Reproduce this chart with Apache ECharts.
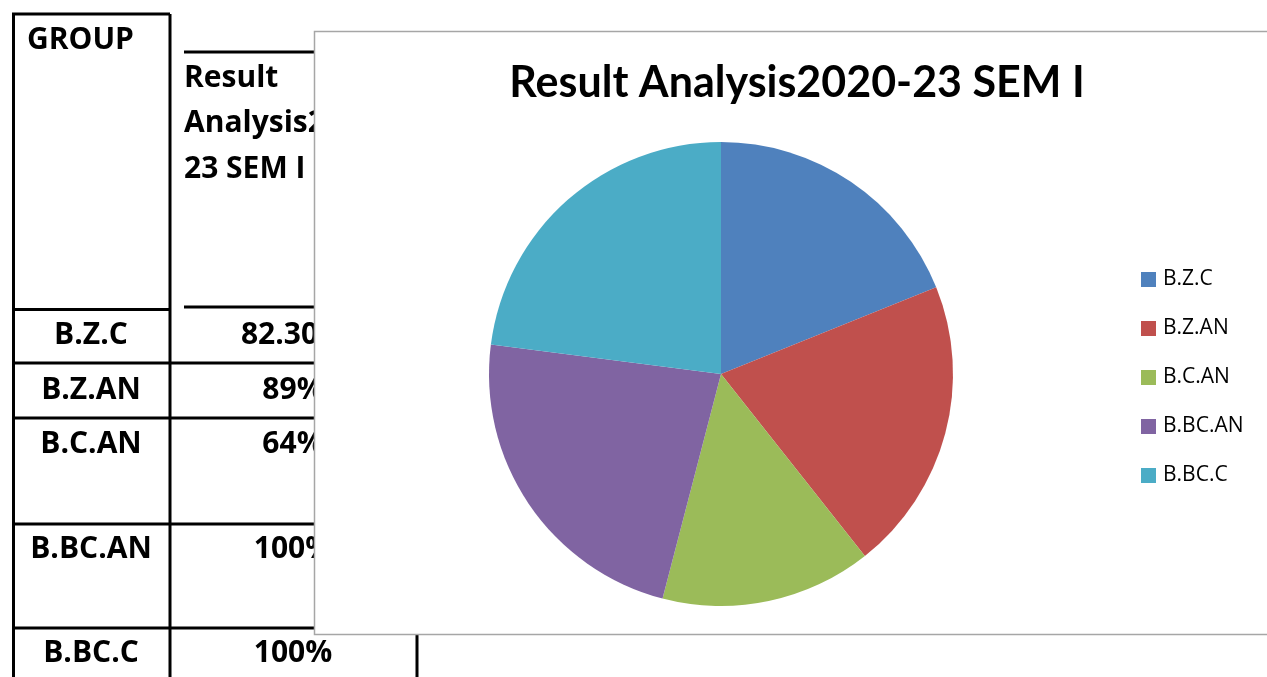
<!DOCTYPE html>
<html>
<head>
<meta charset="utf-8">
<title>Result Analysis2020-23 SEM I</title>
<script src="https://cdn.jsdelivr.net/npm/echarts@6/dist/echarts.min.js"></script>
<style>
    html, body { margin: 0; padding: 0; background: #fff; }
    #chart { width: 1267px; height: 677px; }
</style>
</head>
<body>
<div id="chart"></div>
<script>
    // data
    const groups = ['B.Z.C', 'B.Z.AN', 'B.C.AN', 'B.BC.AN', 'B.BC.C'];
    const results = [82.3, 89, 64, 100, 100];
    const resultLabels = ['82.30%', '89%', '64%', '100%', '100%'];
    const groupHeader = 'GROUP';
    const resultHeader = ['Result', 'Analysis2020-', '23 SEM I'];
    const chartTitle = 'Result Analysis2020-23 SEM I';

    const colors = ['#4F81BD', '#C0504D', '#9BBB59', '#8064A2', '#4BACC6'];
    const FONT = 'Lato, "Open Sans", sans-serif';
    const TABLE_FONT = '"Open Sans", sans-serif';

    // table layout
    const rowLines = [363, 418, 524, 628];
    const rowMid = [335, 390, 444, 549, 653];
    const headerMid = [78, 123, 169];

    function line(x1, y1, x2, y2) {
        return {
            type: 'line', z: 0, silent: true,
            shape: { x1: x1, y1: y1, x2: x2, y2: y2 },
            style: { stroke: '#000', lineWidth: 3 }
        };
    }
    function txt(s, x, y, align) {
        return {
            type: 'text', z: 0, silent: true,
            style: {
                text: s, x: x, y: y, fill: '#000',
                font: 'bold 30px ' + TABLE_FONT,
                textAlign: align || 'center', textVerticalAlign: 'middle'
            }
        };
    }

    let els = [];
    // borders
    els.push(line(12, 14, 170, 14));
    els.push(line(13.5, 14, 13.5, 677));
    els.push(line(170, 14, 170, 677));
    els.push(line(417, 307, 417, 677));
    els.push(line(184, 52, 417, 52));
    els.push(line(12, 309.5, 170, 309.5));
    els.push(line(184, 307, 417, 307));
    rowLines.forEach(function (y) { els.push(line(12, y, 417, y)); });

    // texts
    els.push(txt(groupHeader, 27, 40, 'left'));
    resultHeader.forEach(function (s, i) { els.push(txt(s, 184, headerMid[i], 'left')); });
    groups.forEach(function (g, i) {
        els.push(txt(g, 91, rowMid[i]));
        els.push(txt(resultLabels[i], 293, rowMid[i]));
    });

    // chart frame over the table
    els.push({
        type: 'rect', z: 1, silent: true,
        shape: { x: 314.5, y: 31.5, width: 1000, height: 603 },
        style: { fill: '#fff', stroke: '#a6a6a6', lineWidth: 1.5 }
    });
    els.push({
        type: 'text', z: 6, silent: true,
        style: {
            text: chartTitle, x: 797, y: 83, fill: '#000',
            font: 'bold 43px ' + FONT,
            textAlign: 'center', textVerticalAlign: 'middle'
        }
    });

    const chart = echarts.init(document.getElementById('chart'));
    chart.setOption({
        animation: false,
        color: colors,
        graphic: { elements: els },
        legend: {
            orient: 'vertical',
            left: 1136,
            top: 264,
            icon: 'rect',
            itemWidth: 15,
            itemHeight: 15,
            itemGap: 28,
            data: groups,
            textStyle: { fontFamily: '"Open Sans", sans-serif', fontSize: 21, color: '#000', padding: [0, 0, 0, 2] }
        },
        series: [{
            type: 'pie',
            center: [721, 374],
            radius: 232,
            startAngle: 90,
            clockwise: true,
            label: { show: false },
            labelLine: { show: false },
            itemStyle: { borderWidth: 0 },
            emphasis: { disabled: true },
            data: groups.map(function (g, i) { return { name: g, value: results[i] }; })
        }]
    });
</script>
</body>
</html>
